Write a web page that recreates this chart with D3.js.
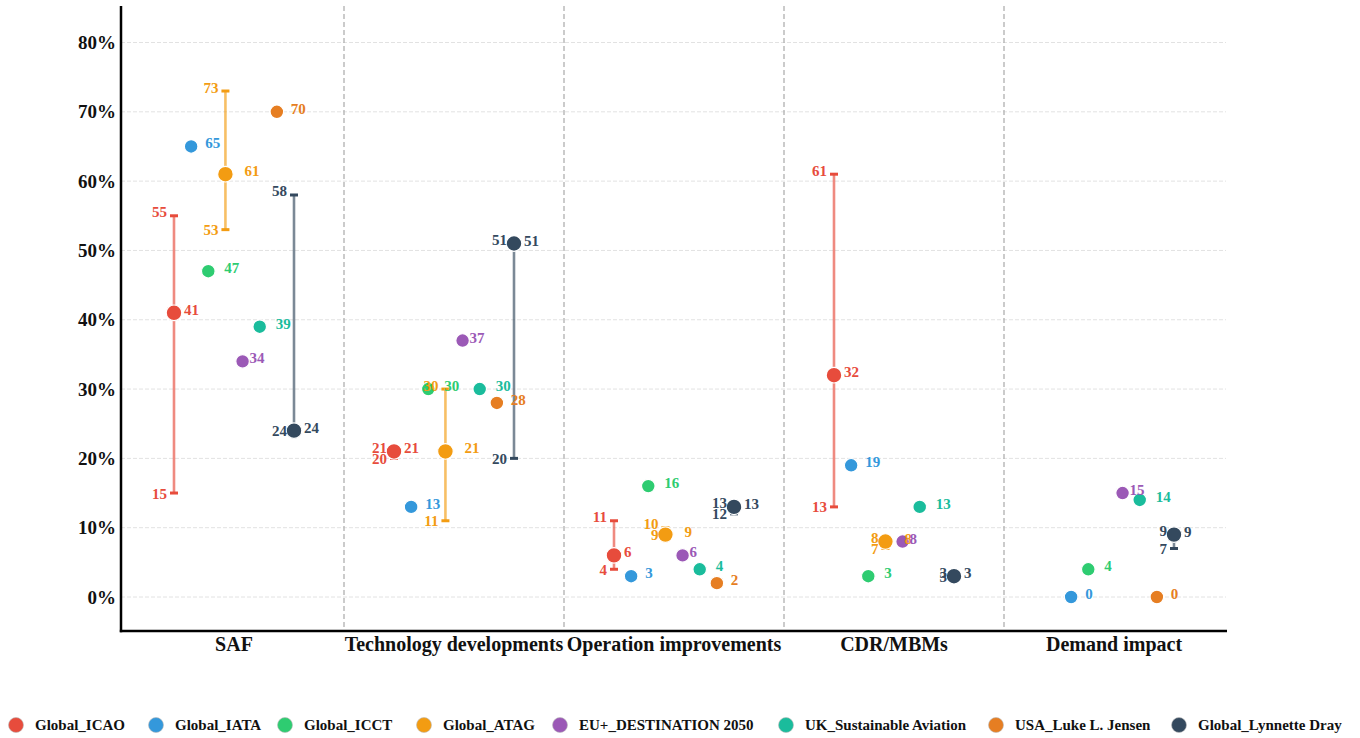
<!DOCTYPE html>
<html>
<head>
<meta charset="utf-8">
<script src="https://cdn.jsdelivr.net/npm/d3@7"></script>
<style>
  body { margin: 0; background: #ffffff; }
  svg { display: block; }
  text { font-family: "Liberation Serif", "Times New Roman", serif; font-weight: bold; }
</style>
</head>
<body>
<svg id="chart" width="1360" height="738"></svg>
<script>
// ---- data -------------------------------------------------------------
const categories = ["SAF", "Technology developments", "Operation improvements", "CDR/MBMs", "Demand impact"];
const seriesNames = ["Global_ICAO", "Global_IATA", "Global_ICCT", "Global_ATAG",
  "EU+_DESTINATION 2050", "UK_Sustainable Aviation", "USA_Luke L. Jensen", "Global_Lynnette Dray"];
const yTicks = [0, 10, 20, 30, 40, 50, 60, 70, 80];

// share of emission reduction (%) per category; null = not reported
const icaoValues     = [41, 21, 6, 32, null];
const icaoMin        = [15, 20, 4, 13, null];
const icaoMax        = [55, 21, 11, 61, null];
const iataValues     = [65, 13, 3, 19, 0];
const icctValues     = [47, 30, 16, 3, 4];
const atagValues     = [61, 21, 9, 8, null];
const atagMin        = [53, 11, 9, 7, null];
const atagMax        = [73, 30, 10, 8, null];
const euValues       = [34, 37, 6, 8, 15];
const ukValues       = [39, 30, 4, 13, 14];
const usaValues      = [70, 28, 2, null, 0];
const lynnetteValues = [24, 51, 13, 3, 9];
const lynnetteMin    = [24, 20, 12, 3, 7];
const lynnetteMax    = [58, 51, 13, 3, 9];

const seriesValues = [icaoValues, iataValues, icctValues, atagValues, euValues, ukValues, usaValues, lynnetteValues];
const seriesMin    = [icaoMin, null, null, atagMin, null, null, null, lynnetteMin];
const seriesMax    = [icaoMax, null, null, atagMax, null, null, null, lynnetteMax];

// ---- styling ------------------------------------------------------------
const seriesColors = ["#e74c3c", "#3498db", "#2ecc71", "#f39c12", "#9b59b6", "#1abc9c", "#e67e22", "#34495e"];
const labelNudge   = [10, 14, 16, 19, 7, 16, 14, 10];   // horizontal gap of value labels
const legendX      = [16, 156, 285, 424, 560, 786, 996, 1179]; // legend key anchors

// flat table of observations
const rows = [];
seriesNames.forEach((s, si) => {
  categories.forEach((c, ci) => {
    const v = seriesValues[si][ci];
    if (v === null) return;
    const lo = seriesMin[si] ? seriesMin[si][ci] : null;
    const hi = seriesMax[si] ? seriesMax[si][ci] : null;
    rows.push({ series: s, si, category: c, value: v, min: lo, max: hi });
  });
});

const svg = d3.select("#chart");
const plotLeft = 121, plotRight = 1226, plotTop = 6, plotBottom = 631;

const x = d3.scaleBand().domain(categories).range([124, 1224]);
const dodge = d3.scalePoint().domain(seriesNames).range([-60, 60]);
const y = d3.scaleLinear().domain([0, 80]).range([597, 42.5]);
const color = d3.scaleOrdinal().domain(seriesNames).range(seriesColors);
const px = d => x(d.category) + x.bandwidth() / 2 + dodge(d.series);

// horizontal gridlines
svg.append("g")
  .selectAll("line").data(yTicks).join("line")
  .attr("x1", plotLeft).attr("x2", plotRight)
  .attr("y1", d => y(d)).attr("y2", d => y(d))
  .attr("stroke", "#e2e2e2").attr("stroke-width", 1).attr("stroke-dasharray", "4,2");

// category separators
svg.append("g")
  .selectAll("line").data(categories.slice(1)).join("line")
  .attr("x1", d => x(d)).attr("x2", d => x(d))
  .attr("y1", plotTop).attr("y2", plotBottom)
  .attr("stroke", "#b0b0b0").attr("stroke-width", 1.3).attr("stroke-dasharray", "5,3");

// y axis
const yAxis = svg.append("g")
  .attr("transform", `translate(${plotLeft},0)`)
  .call(d3.axisLeft(y).tickValues(yTicks).tickFormat(d => d + "%").tickSize(0).tickPadding(5));
yAxis.select(".domain").remove();
yAxis.selectAll("text")
  .attr("font-size", 19).attr("fill", "#111")
  .style("font-family", "'Liberation Serif', serif").style("font-weight", "bold");

// x axis
const xAxis = svg.append("g")
  .attr("transform", `translate(0,${plotBottom})`)
  .call(d3.axisBottom(x).tickSize(0).tickPadding(6));
xAxis.select(".domain").remove();
xAxis.selectAll("text")
  .attr("font-size", 20).attr("fill", "#111")
  .style("font-family", "'Liberation Serif', serif").style("font-weight", "bold");

// axis lines
svg.append("line").attr("x1", plotLeft).attr("x2", plotLeft).attr("y1", plotTop).attr("y2", plotBottom + 1.2)
  .attr("stroke", "#000").attr("stroke-width", 2.5);
svg.append("line").attr("x1", plotLeft - 1.2).attr("x2", plotRight + 1).attr("y1", plotBottom).attr("y2", plotBottom)
  .attr("stroke", "#000").attr("stroke-width", 2.5);

// range bars
const ranged = rows.filter(d => d.min !== null);
const bars = svg.append("g");
bars.selectAll("line.stem").data(ranged).join("line")
  .attr("class", "stem")
  .attr("x1", px).attr("x2", px)
  .attr("y1", d => y(d.max)).attr("y2", d => y(d.min))
  .attr("stroke", d => color(d.series)).attr("stroke-opacity", 0.65).attr("stroke-width", 2.6);
["min", "max"].forEach(k => {
  bars.selectAll("line.cap-" + k).data(ranged).join("line")
    .attr("class", "cap-" + k)
    .attr("x1", d => px(d) - 4).attr("x2", d => px(d) + 4)
    .attr("y1", d => y(d[k])).attr("y2", d => y(d[k]))
    .attr("stroke", d => color(d.series)).attr("stroke-width", 3);
});

// points
svg.append("g")
  .selectAll("circle").data(rows).join("circle")
  .attr("cx", px).attr("cy", d => y(d.value))
  .attr("r", d => d.min !== null ? 7.8 : 6.8)
  .attr("fill", d => color(d.series))
  .attr("stroke", "#ffffff").attr("stroke-width", 1.2);

// value labels
const labels = svg.append("g").attr("font-size", 15);
labels.selectAll("text.val").data(rows).join("text")
  .attr("class", "val")
  .attr("x", d => px(d) + labelNudge[d.si])
  .attr("y", d => y(d.value) - 3)
  .attr("dominant-baseline", "central")
  .attr("fill", d => color(d.series))
  .text(d => d.value);

// range end labels
labels.selectAll("text.max").data(ranged).join("text")
  .attr("class", "max")
  .attr("x", d => px(d) - 7).attr("y", d => y(d.max) - 3.5)
  .attr("text-anchor", "end").attr("dominant-baseline", "central")
  .attr("fill", d => color(d.series))
  .text(d => d.max);
labels.selectAll("text.min").data(ranged).join("text")
  .attr("class", "min")
  .attr("x", d => px(d) - 7).attr("y", d => y(d.min) + 0.5)
  .attr("text-anchor", "end").attr("dominant-baseline", "central")
  .attr("fill", d => color(d.series))
  .text(d => d.min);

// legend
const legend = svg.append("g").attr("transform", "translate(0,725)");
seriesNames.forEach((s, i) => {
  const item = legend.append("g").attr("transform", `translate(${legendX[i]},0)`);
  item.append("circle").attr("r", 7.5).attr("fill", color(s)).attr("stroke", "#bbb").attr("stroke-width", 0.6);
  item.append("text").attr("x", 19).attr("dominant-baseline", "central")
    .attr("font-size", 15).attr("fill", "#111").text(s);
});
</script>
</body>
</html>
